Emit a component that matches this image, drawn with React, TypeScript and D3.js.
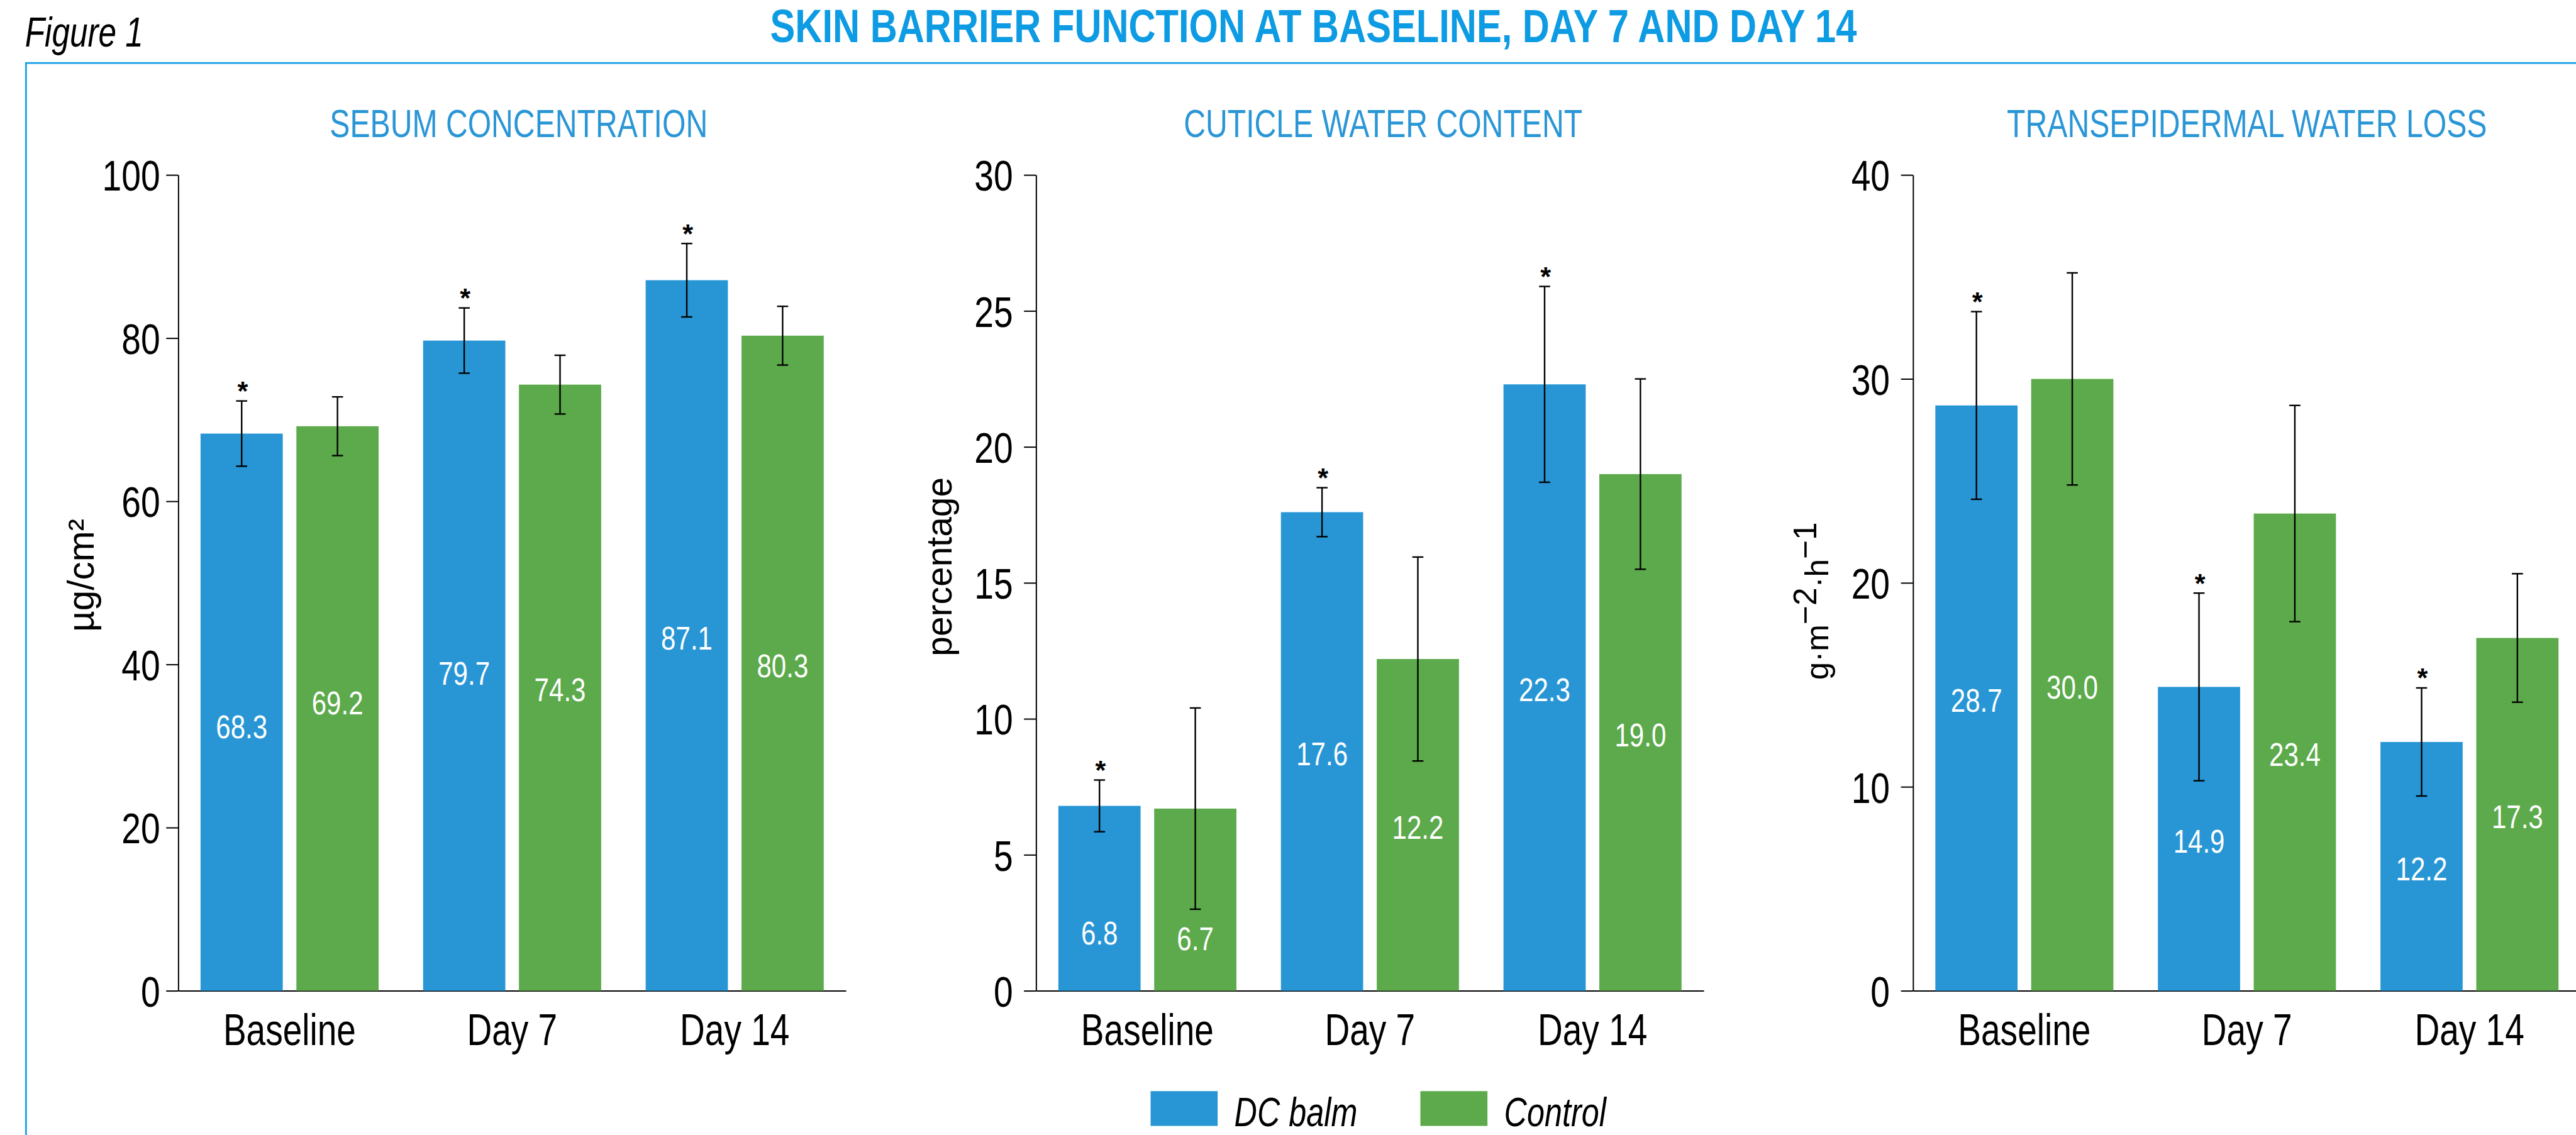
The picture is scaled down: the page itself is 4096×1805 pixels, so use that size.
import * as d3 from "d3";
import React, { useEffect, useRef } from "react";

// ---- data ----
const categories = ["Baseline", "Day 7", "Day 14"];
const seriesNames = ["DC balm", "Control"];

const sebumBalm = [68.3, 79.7, 87.1];
const sebumControl = [69.2, 74.3, 80.3];
const sebumBalmErr = [4.0, 4.0, 4.5];
const sebumControlErr = [3.6, 3.6, 3.6];
const sebumTicks = [0, 20, 40, 60, 80, 100];

const cuticleBalm = [6.8, 17.6, 22.3];
const cuticleControl = [6.7, 12.2, 19.0];
const cuticleBalmErr = [0.95, 0.9, 3.6];
const cuticleControlErr = [3.7, 3.75, 3.5];
const cuticleTicks = [0, 5, 10, 15, 20, 25, 30];

const tewlBalm = [28.7, 14.9, 12.2];
const tewlControl = [30.0, 23.4, 17.3];
const tewlBalmErr = [4.6, 4.6, 2.65];
const tewlControlErr = [5.2, 5.3, 3.15];
const tewlTicks = [0, 10, 20, 30, 40];

// DC balm significant vs control at every time point
const balmSignificant = [true, true, true];

const panels = [
  {
    title: "SEBUM CONCENTRATION",
    unit: ["µg/cm²"],
    balm: sebumBalm,
    control: sebumControl,
    balmErr: sebumBalmErr,
    controlErr: sebumControlErr,
    ticks: sebumTicks,
  },
  {
    title: "CUTICLE WATER CONTENT",
    unit: ["percentage"],
    balm: cuticleBalm,
    control: cuticleControl,
    balmErr: cuticleBalmErr,
    controlErr: cuticleControlErr,
    ticks: cuticleTicks,
  },
  {
    title: "TRANSEPIDERMAL WATER LOSS",
    unit: ["g·m", "−2", "·h", "−1"],
    balm: tewlBalm,
    control: tewlControl,
    balmErr: tewlBalmErr,
    controlErr: tewlControlErr,
    ticks: tewlTicks,
  },
];

// ---- layout (reference pixel space, scaled by the viewBox) ----
const REF_W = 5107;
const REF_H = 2251;
const FONT = "'Liberation Sans', Arial, Helvetica, sans-serif";
const BLUE = "#2896d5";
const GREEN = "#5caa4b";
const TITLE_BLUE = "#0d9be3";
const SUB_BLUE = "#2a96d6";

const axisX = [353, 2054, 3793];
const plotW = 1324;
const yBottom = 1965;
const yTop = 347;
const titleX = [1028, 2742, 4455];
const unitY = [1141, 1124, 1192];
const unitSize = [73, 71, 64];
const tickPad = [12, 22, 22];
const valueNudge = [
  [25, -16, 11, 0, 1, 1],
  [65, 73, 0, 0, 0, 0],
  [0, 0, 0, 0, 0, 0],
];

const App: React.FC = () => {
  const svgRef = useRef<SVGSVGElement>(null);

  useEffect(() => {
    const svg = d3.select(svgRef.current);
    svg.selectAll("*").remove();
    svg.append("rect").attr("width", REF_W).attr("height", REF_H).attr("fill", "#fff");

    // frame
    svg
      .append("rect")
      .attr("x", 51)
      .attr("y", 125)
      .attr("width", REF_W)
      .attr("height", REF_H)
      .attr("fill", "none")
      .attr("stroke", "#1a9fe3")
      .attr("stroke-width", 3.5);

    const ctext = (
      parent: d3.Selection<any, unknown, null, undefined>,
      str: string,
      x: number,
      y: number,
      size: number,
      k: number
    ) =>
      parent
        .append("text")
        .text(str)
        .attr("transform", `translate(${x},${y}) scale(${k},1)`)
        .attr("font-family", FONT)
        .attr("font-size", size);

    ctext(svg, "Figure 1", 49, 92, 82, 0.78).attr("font-style", "italic");
    ctext(svg, "SKIN BARRIER FUNCTION AT BASELINE, DAY 7 AND DAY 14", 2604, 84, 93, 0.8)
      .attr("font-weight", "bold")
      .attr("fill", TITLE_BLUE)
      .attr("text-anchor", "middle");

    panels.forEach((p, i) => {
      const x0 = axisX[i];
      const g = svg.append("g");

      const y = d3
        .scaleLinear()
        .domain([0, p.ticks[p.ticks.length - 1]])
        .range([yBottom, yTop]);
      const x = d3
        .scaleBand()
        .domain(categories)
        .range([x0, x0 + plotW])
        .paddingInner(0.2)
        .paddingOuter(0.1);
      const xs = d3
        .scaleBand()
        .domain(seriesNames)
        .range([0, x.bandwidth()])
        .paddingInner(0.142);

      ctext(g, p.title, titleX[i], 272, 78, 0.77)
        .attr("fill", SUB_BLUE)
        .attr("text-anchor", "middle");

      // y axis
      const ya = g
        .append("g")
        .attr("transform", `translate(${x0},0)`)
        .call(d3.axisLeft(y).tickValues(p.ticks).tickSize(24).tickPadding(tickPad[i]).tickSizeOuter(0))
        .attr("font-family", FONT)
        .attr("font-size", 86);
      ya.selectAll("path, line").attr("stroke", "#000").attr("stroke-width", 2.5);
      ya.selectAll("text")
        .attr("fill", "#000")
        .attr("transform", "scale(0.8,1)")
        .attr("x", -(24 + tickPad[i]) / 0.8)
        .attr("dy", "0.36em");

      // x axis
      const xa = g
        .append("g")
        .attr("transform", `translate(0,${yBottom})`)
        .call(d3.axisBottom(x).tickSize(0).tickPadding(45).tickSizeOuter(0))
        .attr("font-family", FONT)
        .attr("font-size", 88);
      xa.selectAll("path").attr("stroke", "#000").attr("stroke-width", 2.5);
      xa.selectAll("text").attr("fill", "#000").attr("transform", "scale(0.78,1)");

      // y label
      const ut = g
        .append("text")
        .attr("transform", `translate(${x0 - 168},${unitY[i]}) rotate(-90)`)
        .attr("text-anchor", "middle")
        .attr("font-family", FONT)
        .attr("font-size", unitSize[i]);
      p.unit.forEach((s, j) => {
        ut.append("tspan")
          .text(s)
          .attr("dy", j === 0 ? 0 : j % 2 === 1 ? "-0.37em" : "0.37em");
      });

      // bars
      const rows = categories.flatMap((c, ci) => [
        { c, ci, s: seriesNames[0], v: p.balm[ci], e: p.balmErr[ci], col: BLUE, sig: balmSignificant[ci] },
        { c, ci, s: seriesNames[1], v: p.control[ci], e: p.controlErr[ci], col: GREEN, sig: false },
      ]);
      const cx = (d: (typeof rows)[number]) => (x(d.c) as number) + (xs(d.s) as number) + xs.bandwidth() / 2;

      g.selectAll(".bar")
        .data(rows)
        .join("rect")
        .attr("class", "bar")
        .attr("x", (d) => (x(d.c) as number) + (xs(d.s) as number))
        .attr("width", xs.bandwidth())
        .attr("y", (d) => y(d.v))
        .attr("height", (d) => yBottom - y(d.v))
        .attr("fill", (d) => d.col);

      g.selectAll(".val")
        .data(rows)
        .join("text")
        .attr("class", "val")
        .text((d) => d.v.toFixed(1))
        .attr(
          "transform",
          (d, k) => `translate(${cx(d)},${(y(d.v) + yBottom) / 2 + 4 + valueNudge[i][k]}) scale(0.82,1)`
        )
        .attr("dy", "0.36em")
        .attr("text-anchor", "middle")
        .attr("font-family", FONT)
        .attr("font-size", 64)
        .attr("fill", "#fff");

      // error bars
      const eb = g
        .selectAll(".err")
        .data(rows)
        .join("g")
        .attr("class", "err")
        .attr("stroke", "#000")
        .attr("stroke-width", 3);
      eb.append("line")
        .attr("x1", cx)
        .attr("x2", cx)
        .attr("y1", (d) => y(d.v - d.e))
        .attr("y2", (d) => y(d.v + d.e));
      eb.selectAll(".cap")
        .data((d) => [d.v - d.e, d.v + d.e].map((v) => ({ v, x: cx(d) })))
        .join("line")
        .attr("class", "cap")
        .attr("x1", (d) => d.x - 11)
        .attr("x2", (d) => d.x + 11)
        .attr("y1", (d) => y(d.v))
        .attr("y2", (d) => y(d.v));

      g.selectAll(".sig")
        .data(rows.filter((d) => d.sig))
        .join("text")
        .attr("class", "sig")
        .text("*")
        .attr("x", (d) => cx(d) + 2)
        .attr("y", (d) => y(d.v + d.e) - 2)
        .attr("text-anchor", "middle")
        .attr("font-family", FONT)
        .attr("font-weight", "bold")
        .attr("font-size", 54);
    });

    // legend
    const legend = [
      { name: seriesNames[0], col: BLUE, x: 2281 },
      { name: seriesNames[1], col: GREEN, x: 2816 },
    ];
    legend.forEach((l) => {
      svg.append("rect").attr("x", l.x).attr("y", 2164).attr("width", 133).attr("height", 69).attr("fill", l.col);
      ctext(svg, l.name, l.x + 166, 2233, 81, 0.775).attr("font-style", "italic");
    });
  }, []);

  return (
    <svg
      ref={svgRef}
      width={4096}
      height={1805}
      viewBox={`0 0 ${REF_W} ${REF_H}`}
      style={{ position: "absolute", left: 0, top: 0, display: "block" }}
    />
  );
};

export default App;
